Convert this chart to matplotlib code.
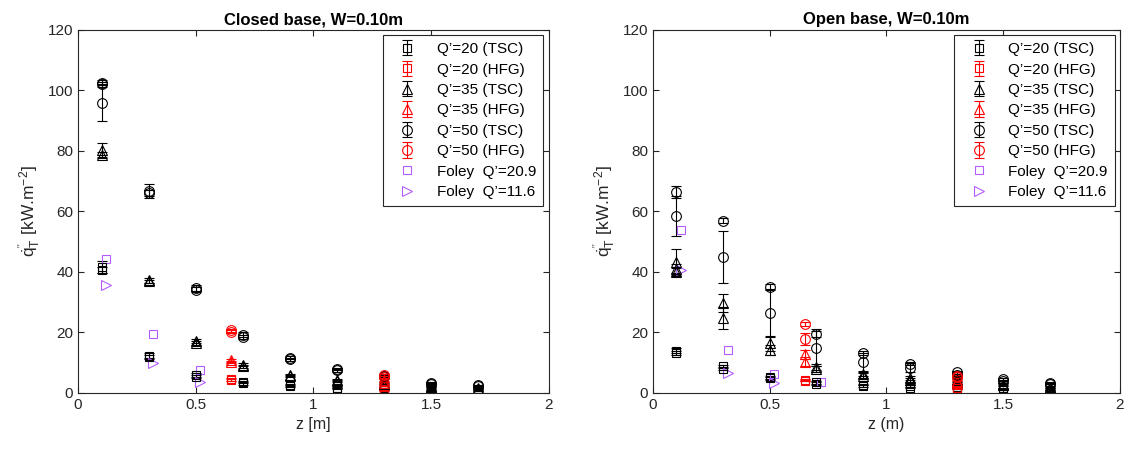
import matplotlib
matplotlib.use("Agg")
import matplotlib.pyplot as plt

plt.rcParams['font.family'] = ['Liberation Sans', 'DejaVu Sans']
plt.rcParams['mathtext.fontset'] = 'custom'
plt.rcParams['mathtext.rm'] = 'Liberation Sans'
plt.rcParams['mathtext.it'] = 'Liberation Sans:italic'

# ---- closed base data ----
c_z_tsc = [0.1, 0.1, 0.3, 0.3, 0.5, 0.5, 0.7, 0.7, 0.9, 0.9, 1.1, 1.1, 1.3, 1.3, 1.5, 1.5, 1.7, 1.7]
c_q20_tsc = [41.7, 40.7, 12.3, 11.8, 5.9, 5.4, 3.6, 3.2, 2.7, 2.4, 1.8, 1.5, 1.6, 1.3, 1.1, 0.9, 0.9, 0.7]
c_q20_tsc_err = [2.0, 1.0, 0.8, 0.6, 0.6, 0.5, 0.4, 0.4, 0.3, 0.3, 0.2, 0.2, 0.2, 0.2, 0.2, 0.2, 0.2, 0.2]
c_q35_tsc = [80.3, 78.7, 37.3, 36.9, 17.2, 16.6, 9.3, 8.8, 6.0, 5.6, 4.3, 3.9, 3.2, 2.9, 2.1, 1.9, 1.6, 1.4]
c_q35_tsc_err = [2.3, 1.0, 0.8, 0.6, 0.8, 0.6, 0.5, 0.5, 0.4, 0.4, 0.3, 0.3, 0.3, 0.3, 0.2, 0.2, 0.2, 0.2]
c_z_q50 = [0.1, 0.1, 0.1, 0.3, 0.3, 0.5, 0.5, 0.7, 0.7, 0.9, 0.9, 1.1, 1.1, 1.3, 1.3, 1.5, 1.5, 1.7, 1.7]
c_q50_tsc = [102.5, 102.0, 96.0, 66.8, 66.0, 34.8, 34.2, 19.2, 18.6, 11.6, 11.2, 7.9, 7.5, 5.6, 5.2, 3.2, 2.9, 2.6, 2.3]
c_q50_tsc_err = [0.8, 0.8, 6.0, 2.4, 1.0, 1.0, 0.8, 0.8, 0.6, 0.5, 0.5, 0.4, 0.4, 0.3, 0.3, 0.3, 0.3, 0.2, 0.2]
c_z_hfg = [0.65, 0.65, 1.3, 1.3]
c_q20_hfg = [4.5, 4.2, 1.3, 1.1]
c_q35_hfg = [10.8, 10.2, 3.8, 3.4]
c_q50_hfg = [20.7, 20.3, 5.9, 5.4]
c_hfg_err = [0.4, 0.4, 0.3, 0.3]
c_z_foley1 = [0.12, 0.32, 0.52]
c_foley209 = [44.3, 19.5, 7.5]
c_z_foley2 = [0.12, 0.32, 0.52]
c_foley116 = [35.7, 9.9, 3.5]

# ---- open base data ----
o_z_tsc = [0.1, 0.1, 0.3, 0.3, 0.5, 0.5, 0.7, 0.7, 0.9, 0.9, 1.1, 1.1, 1.3, 1.3, 1.5, 1.5, 1.7, 1.7]
o_q20_tsc = [14.0, 13.2, 8.8, 8.0, 5.2, 4.8, 3.5, 3.1, 2.8, 2.4, 2.2, 1.8, 2.0, 1.7, 1.5, 1.2, 1.1, 0.9]
o_q20_tsc_err = [0.8, 0.6, 0.6, 0.5, 0.5, 0.4, 0.4, 0.4, 0.3, 0.3, 0.3, 0.3, 0.3, 0.3, 0.2, 0.2, 0.2, 0.2]
o_z_q35 = [0.1, 0.1, 0.1, 0.3, 0.3, 0.5, 0.5, 0.7, 0.7, 0.9, 0.9, 1.1, 1.1, 1.3, 1.3, 1.5, 1.5, 1.7, 1.7]
o_q35_tsc = [43.3, 41.0, 40.0, 29.7, 24.8, 16.5, 14.2, 8.7, 8.0, 6.3, 5.7, 5.0, 4.2, 4.2, 3.6, 3.0, 2.6, 2.1, 1.8]
o_q35_tsc_err = [4.3, 1.5, 1.2, 3.0, 3.5, 2.5, 1.5, 1.0, 1.0, 0.8, 0.8, 0.6, 0.6, 0.5, 0.5, 0.4, 0.4, 0.3, 0.3]
o_z_q50 = [0.1, 0.1, 0.3, 0.3, 0.5, 0.5, 0.7, 0.7, 0.9, 0.9, 1.1, 1.1, 1.3, 1.3, 1.5, 1.5, 1.7, 1.7]
o_q50_tsc = [66.3, 58.5, 57.0, 45.0, 35.0, 26.5, 19.5, 15.0, 13.2, 10.2, 9.7, 8.3, 6.9, 5.8, 4.5, 3.8, 3.4, 2.9]
o_q50_tsc_err = [2.0, 6.5, 0.8, 8.5, 1.0, 8.0, 1.0, 6.0, 0.8, 3.0, 0.6, 1.5, 0.5, 1.0, 0.4, 0.6, 0.3, 0.5]
o_z_hfg = [0.65, 0.65, 1.3, 1.3]
o_q20_hfg = [4.4, 4.1, 1.8, 1.6]
o_q20_hfg_err = [0.3, 0.3, 0.2, 0.2]
o_q35_hfg = [12.8, 10.3, 3.8, 3.5]
o_q35_hfg_err = [1.5, 1.5, 0.4, 0.4]
o_q50_hfg = [22.7, 17.8, 5.6, 5.3]
o_hfg_err = [0.6, 2.0, 0.4, 0.4]
o_z_foley1 = [0.12, 0.32, 0.52, 0.72]
o_foley209 = [54.0, 14.3, 6.3, 3.6]
o_z_foley2 = [0.12, 0.32, 0.52]
o_foley116 = [40.6, 6.6, 3.3]

labels = ["Q\u2019=20 (TSC)", "Q\u2019=20 (HFG)", "Q\u2019=35 (TSC)", "Q\u2019=35 (HFG)",
          "Q\u2019=50 (TSC)", "Q\u2019=50 (HFG)", "Foley  Q\u2019=20.9", "Foley  Q\u2019=11.6"]

purple = '#b45cff'


def eb(ax, z, y, err, marker, color, label, ms=7):
    return ax.errorbar(z, y, yerr=err, fmt=marker, mfc='none', mec=color, color=color,
                       ecolor=color, ms=ms, mew=0.8, elinewidth=0.8, capsize=3.5, capthick=0.8,
                       label=label)


def panel(ax, title, xlabel, d):
    h = []
    h.append(eb(ax, d[0], d[1], d[2], 's', 'black', labels[0], 6))
    h.append(eb(ax, d[3], d[4], d[5], 's', 'red', labels[1], 6))
    h.append(eb(ax, d[6], d[7], d[8], '^', 'black', labels[2]))
    h.append(eb(ax, d[3], d[9], d[10], '^', 'red', labels[3]))
    h.append(eb(ax, d[11], d[12], d[13], 'o', 'black', labels[4]))
    h.append(eb(ax, d[3], d[14], d[15], 'o', 'red', labels[5]))
    h += ax.plot(d[16], d[17], 's', mfc='none', mec=purple, ms=6, mew=0.8, label=labels[6])
    h += ax.plot(d[18], d[19], '>', mfc='none', mec=purple, ms=7.5, mew=0.8, label=labels[7])
    ax.set_xlim(0, 2)
    ax.set_ylim(0, 120)
    ax.set_xticks([0, 0.5, 1, 1.5, 2])
    ax.set_xticklabels(["0", "0.5", "1", "1.5", "2"])
    ax.set_yticks(range(0, 121, 20))
    ax.tick_params(direction='in', top=True, right=True, labelsize=11, colors='#262626', length=4)
    for s in ax.spines.values():
        s.set_color('#262626')
        s.set_linewidth(0.8)
    ax.set_title(title, fontsize=12, fontweight='bold', pad=4)
    ax.set_xlabel(xlabel, fontsize=11.5, color='#262626')
    ax.set_ylabel(r"$\dot{\mathrm{q}}^{''}_{\mathrm{T}}$ [kW.m$^{-2}$]", fontsize=12.5, color='#262626')
    leg = ax.legend(handles=h, loc='upper right', fontsize=11, frameon=True, fancybox=False,
                    edgecolor='#262626', framealpha=1, labelspacing=0.42, borderpad=0.45,
                    handlelength=2.3, handletextpad=0.8, borderaxespad=0.35)
    leg.get_frame().set_linewidth(0.8)


fig = plt.figure(figsize=(11.29, 4.5), dpi=100)
ax1 = fig.add_axes([0.0691, 0.1267, 0.417, 0.8067])
ax2 = fig.add_axes([0.5784, 0.1267, 0.4136, 0.8067])

panel(ax1, "Closed base, W=0.10m", "z [m]",
      [c_z_tsc, c_q20_tsc, c_q20_tsc_err, c_z_hfg, c_q20_hfg, c_hfg_err,
       c_z_tsc, c_q35_tsc, c_q35_tsc_err, c_q35_hfg, c_hfg_err,
       c_z_q50, c_q50_tsc, c_q50_tsc_err, c_q50_hfg, c_hfg_err,
       c_z_foley1, c_foley209, c_z_foley2, c_foley116])
panel(ax2, "Open base, W=0.10m", "z (m)",
      [o_z_tsc, o_q20_tsc, o_q20_tsc_err, o_z_hfg, o_q20_hfg, o_q20_hfg_err,
       o_z_q35, o_q35_tsc, o_q35_tsc_err, o_q35_hfg, o_q35_hfg_err,
       o_z_q50, o_q50_tsc, o_q50_tsc_err, o_q50_hfg, o_hfg_err,
       o_z_foley1, o_foley209, o_z_foley2, o_foley116])

fig.savefig("out.png", dpi=100)
